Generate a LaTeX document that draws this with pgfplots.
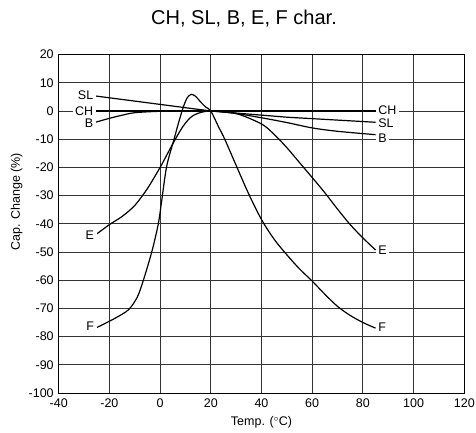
\documentclass[border=0pt]{standalone}
\usepackage{fontspec}
\setmainfont{Liberation Sans}
\usepackage{pgfplots}
\pgfplotsset{compat=1.18}
\begin{document}
\begin{tikzpicture}
\begin{axis}[
  scale only axis,
  width=405.6bp, height=338.4bp,
  xmin=-40, xmax=120, ymin=-100, ymax=20,
  xtick={-40,-20,...,120},
  ytick={-100,-90,...,20},
  major tick length=0pt,
  grid=major,
  major grid style={black!80, line width=0.9bp},
  axis line style={black, line width=1bp},
  /pgf/number format/assume math mode=true,
  ticklabel style={font=\fontsize{12.5bp}{15bp}\selectfont},
  yticklabel style={xshift=-1.5bp},
  xticklabel style={yshift=-2bp},
  label style={font=\fontsize{12.5bp}{15bp}\selectfont},
  xlabel={Temp. ($^\circ$C)},
  ylabel={Cap. Change (\%)},
  xlabel style={at={(axis description cs:0.5,0)}, anchor=base, yshift=-32.7bp},
  ylabel style={at={(axis description cs:-0.1036,0.565)}, anchor=center},
  cycle list={{black, line width=1.2bp}},
]
% CH
\addplot[black, line width=1.2bp] coordinates {(-25.3,0) (85,0)};
% SL
\addplot[black, line width=1.2bp] coordinates {(-25.3,5.3) (20,0) (50,-2.2) (85,-4)};
% B
\addplot[black, line width=1.2bp, smooth, tension=0.5] coordinates {(-25.5,-4) (-20,-2.6) (-15,-1.5) (-10,-0.6) (0,-0.1) (10,0) (20,0) (30,-0.9) (40,-2.4) (50,-4.1) (60,-6) (70,-7.2) (85,-8.4)};
% E
\addplot[black, line width=1.2bp, smooth, tension=0.5] coordinates {(-25,-43.6) (-20,-40.3) (-15,-37.4) (-10,-33.5) (-5,-27.5) (0,-20) (3,-15) (6,-10) (9,-5.5) (12,-2.3) (15,-0.8) (20,0) (30,-0.9) (40,-4.6) (45,-8.3) (50,-13) (55,-18.3) (60,-23.6) (65,-29) (70,-34.8) (75,-40.3) (80,-45) (85,-49.3)};
% F
\addplot[black, line width=1.2bp, smooth, tension=0.5] coordinates {(-25,-76.8) (-18,-73.6) (-12.5,-70.5) (-9,-66) (-6.6,-60) (-3.3,-50) (-0.7,-40) (0.6,-32) (2.6,-19.6) (5.5,-10) (7.5,-3.5) (9.2,1.5) (10.7,4.7) (12.3,5.9) (14,5.2) (16,3.2) (18,1.4) (20,0) (23,-5.5) (25.5,-10) (30,-19.3) (35,-29.5) (40,-38.5) (45,-45.5) (50,-51) (55,-56) (60,-60.3) (65,-65) (70,-69.3) (75,-72.5) (80,-75) (85,-77)};
% labels
\begin{scope}[every node/.style={fill=white, inner sep=2.5bp, font=\fontsize{12.5bp}{15bp}\selectfont}]
\node[anchor=east] at (axis cs:-25.3,5.6) {SL};
\node[anchor=east] at (axis cs:-25.3,0) {CH};
\node[anchor=east] at (axis cs:-25.3,-4.5) {B};
\node[anchor=east] at (axis cs:-25,-44) {E};
\node[anchor=east] at (axis cs:-25,-76.3) {F};
\node[anchor=west] at (axis cs:85,0.3) {CH};
\node[anchor=west] at (axis cs:85,-4.3) {SL};
\node[anchor=west] at (axis cs:85,-9.8) {B};
\node[anchor=west] at (axis cs:85,-49.5) {E};
\node[anchor=west] at (axis cs:85,-76.7) {F};
\end{scope}
\end{axis}
\node[anchor=base, font=\fontsize{20bp}{23bp}\selectfont] at (185.3bp,368.7bp) {CH, SL, B, E, F char.};
\pgfresetboundingbox
\path[use as bounding box] (-58.7bp,-40bp) rectangle (417.3bp,393bp);
\end{tikzpicture}
\end{document}
